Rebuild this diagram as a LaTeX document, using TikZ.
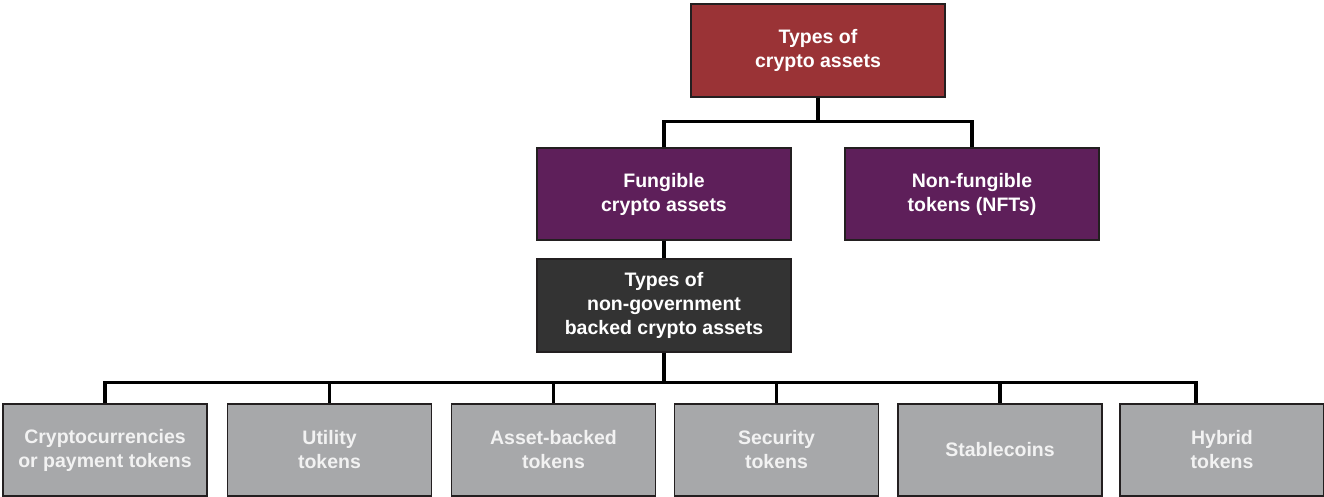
\documentclass[tikz,border=0pt]{standalone}
\usepackage{fontspec}
\setmainfont{Liberation Sans}
\usepackage{xcolor}
\usepackage{tikz}
\usetikzlibrary{positioning,calc}
\definecolor{toptype}{HTML}{9A3336}
\definecolor{fung}{HTML}{5E1F5A}
\definecolor{ngov}{HTML}{333333}
\definecolor{token}{HTML}{A7A8AA}
\definecolor{tokentext}{HTML}{F2F2F2}
\definecolor{edge}{HTML}{231F20}
\tikzset{
  box/.style={draw=edge, line width=1.2pt, align=center, inner sep=0pt,
              font=\fontsize{19.5}{24}\selectfont\bfseries, text=white,
              minimum width=254pt, minimum height=93pt},
  tok/.style={box, fill=token, text=tokentext, minimum width=204pt, minimum height=92pt},
  conn/.style={line width=3.4pt, draw=black},
}
\begin{document}
\begin{tikzpicture}[x=1pt, y=-1pt]
  \useasboundingbox (0,0) rectangle (1324,496);
  % top levels
  \node[box, fill=toptype] (types) at (818,50.5) {Types of\\crypto assets};
  \node[box, fill=fung, minimum height=92pt] (fungible) at (664,194) {Fungible\\crypto assets};
  \node[box, fill=fung, minimum height=92pt] (nft) at (972,194) {Non-fungible\\tokens (NFTs)};
  \node[box, fill=ngov] (nongov) at (664,305.5) {Types of\\non-government\\backed crypto assets};
  % token kinds
  \node[tok] (crypto) at (105,450) {Cryptocurrencies\\or payment tokens};
  \node[tok] (utility) at (329.5,450) {Utility\\tokens};
  \node[tok] (asset) at (553.5,450) {Asset-backed\\tokens};
  \node[tok] (security) at (776.5,450) {Security\\tokens};
  \node[tok] (stable) at (1000,450) {Stablecoins};
  \node[tok] (hybrid) at (1222,450) {Hybrid\\tokens};
  % connectors
  \draw[conn] (types.south) -- ++(0,24) -| (fungible.north);
  \draw[conn] (types.south) -- ++(0,24) -| (nft.north);
  \draw[conn] (fungible) -- (nongov);
  \coordinate (bar) at ($(nongov.south)+(0,30)$);
  \draw[conn] (nongov.south) -- (bar) -| (crypto.north);
  \draw[conn] (bar) -| (utility.north);
  \draw[conn] (bar) -| (asset.north);
  \draw[conn] (bar) -| (security.north);
  \draw[conn] (bar) -| (stable.north);
  \draw[conn] (bar) -| ($(hybrid.north)+(-26,0)$);
\end{tikzpicture}
\end{document}
